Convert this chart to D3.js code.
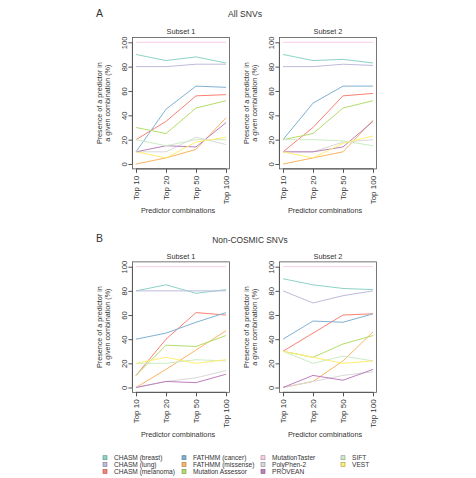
<!DOCTYPE html>
<html>
<head>
<meta charset="utf-8">
<script src="https://cdn.jsdelivr.net/npm/d3@7"></script>
<style>
  body { margin: 0; background: #fff; }
  svg { display: block; font-family: "Liberation Sans", Arial, sans-serif; fill: #333; }
</style>
</head>
<body>
<div id="chart"></div>
<script>
// predictors in legend order, with their line colours
const predictors = ['CHASM (breast)', 'CHASM (lung)', 'CHASM (melanoma)', 'FATHMM (cancer)',
    'FATHMM (missense)', 'Mutation Assessor', 'MutationTaster', 'PolyPhen-2', 'PROVEAN', 'SIFT', 'VEST'];
const colors = ['#8DD3C7', '#BEBADA', '#FB8072', '#80B1D3', '#FDB462', '#B3DE69',
    '#FCCDE5', '#D9D9D9', '#BC80BD', '#CCEBC5', '#FFED6F'];
const combos = ['Top 10', 'Top 20', 'Top 50', 'Top 100'];
const yTicks = [0, 20, 40, 60, 80, 100];

// % presence per predictor (same order as predictors), for Top 10/20/50/100
const allSubset1 = [
    [90, 85, 88, 83], [80, 80, 82, 82], [20, 35, 56, 57], [10, 45, 64, 63],
    [0, 5, 12, 38], [30, 25, 46, 52], [100, 100, 100, 100], [10, 10, 22, 16],
    [10, 15, 14, 34], [20, 15, 20, 20], [10, 5, 18, 22]
];
const allSubset2 = [
    [90, 85, 86, 83], [80, 80, 82, 81], [10, 30, 56, 58], [20, 50, 64, 64],
    [0, 5, 10, 36], [20, 25, 46, 52], [100, 100, 100, 100], [10, 10, 18, 20],
    [10, 10, 14, 35], [20, 20, 19, 15], [10, 5, 17, 23]
];
const nonCosmicSubset1 = [
    [80, 85, 78, 81], [80, 80, 80, 80], [10, 40, 62, 60], [40, 45, 54, 62],
    [0, 15, 31, 47], [10, 35, 34, 43], [100, 100, 100, 100], [0, 5, 8, 14],
    [0, 5, 4, 11], [20, 20, 23, 22], [20, 25, 20, 23]
];
const nonCosmicSubset2 = [
    [90, 85, 82, 81], [80, 70, 76, 80], [30, 45, 60, 61], [40, 55, 54, 61],
    [0, 5, 22, 46], [30, 25, 36, 43], [100, 100, 100, 100], [0, 5, 10, 13],
    [0, 10, 6, 15], [30, 20, 26, 22], [30, 25, 20, 22]
];

const totalWidth = 476;
const totalHeight = 478;

const svg = d3.select('#chart')
    .append('svg')
    .attr('width', totalWidth)
    .attr('height', totalHeight);

// panel positions (x range = Top 10 .. Top 100 tick spots, y = 0..100)
const panels = [
    {data: allSubset1, title: 'Subset 1', x0: 136, x1: 226, yTop: 42.3, yBottom: 164},
    {data: allSubset2, title: 'Subset 2', x0: 283, x1: 373, yTop: 42.3, yBottom: 164},
    {data: nonCosmicSubset1, title: 'Subset 1', x0: 136, x1: 226, yTop: 266.7, yBottom: 387.5},
    {data: nonCosmicSubset2, title: 'Subset 2', x0: 283, x1: 373, yTop: 266.7, yBottom: 387.5}
];

// section headings
svg.append('text').attr('x', 96).attr('y', 17).style('font-size', '10.5px').text('A');
svg.append('text').attr('x', 245).attr('y', 17).style('font-size', '8.6px')
    .style('text-anchor', 'middle').text('All SNVs');
svg.append('text').attr('x', 96).attr('y', 242).style('font-size', '10.5px').text('B');
svg.append('text').attr('x', 250).attr('y', 243).style('font-size', '8.4px')
    .style('text-anchor', 'middle').text('Non-COSMIC SNVs');

panels.forEach(p => {
    // R style: pad domain by 4% on each side
    const xScale = d3.scaleLinear().domain([1, 4]).range([p.x0, p.x1]);
    const yScale = d3.scaleLinear().domain([0, 100]).range([p.yBottom, p.yTop]);

    const left = xScale(0.88), right = xScale(4.12);
    const top = yScale(104), bottom = yScale(-4);

    const g = svg.append('g');

    // lines
    const line = d3.line()
        .x((d, i) => xScale(i + 1))
        .y(d => yScale(d));

    p.data.forEach((values, k) => {
        g.append('path')
            .datum(values)
            .attr('d', line)
            .attr('fill', 'none')
            .attr('stroke', colors[k])
            .attr('stroke-width', 1);
    });

    // box
    g.append('rect')
        .attr('x', left).attr('y', top)
        .attr('width', right - left).attr('height', bottom - top)
        .attr('fill', 'none').attr('stroke', '#555').attr('stroke-width', 0.8);

    // x axis
    const xAxis = g.append('g')
        .attr('transform', `translate(0, ${bottom})`)
        .call(d3.axisBottom(xScale).tickValues([1, 2, 3, 4])
            .tickFormat((d, i) => combos[i]).tickSize(4).tickSizeOuter(0));
    xAxis.select('.domain').attr('d', `M${xScale(1)},0H${xScale(4)}`).attr('stroke', '#555');
    xAxis.selectAll('.tick line').attr('stroke', '#555');
    xAxis.selectAll('.tick text')
        .attr('x', 0).attr('y', 0).attr('dy', '0.35em')
        .attr('transform', 'translate(0, 7) rotate(-90)')
        .style('text-anchor', 'end')
        .style('font-size', '8px')
        .attr('fill', '#333');

    // y axis
    const yAxis = g.append('g')
        .attr('transform', `translate(${left}, 0)`)
        .call(d3.axisLeft(yScale).tickValues(yTicks).tickSize(4).tickSizeOuter(0));
    yAxis.select('.domain').attr('d', `M0,${yScale(0)}V${yScale(100)}`).attr('stroke', '#555');
    yAxis.selectAll('.tick line').attr('stroke', '#555');
    yAxis.selectAll('.tick text')
        .attr('x', 0).attr('y', 0).attr('dy', 0)
        .attr('transform', 'translate(-5.5, 0) rotate(-90)')
        .style('text-anchor', 'middle')
        .style('font-size', '7.6px')
        .attr('fill', '#333');

    // panel title
    g.append('text')
        .attr('x', (left + right) / 2)
        .attr('y', top - 3)
        .style('text-anchor', 'middle')
        .style('font-size', '7.3px')
        .text(p.title);

    // x axis title
    g.append('text')
        .attr('x', (left + right) / 2 - 3)
        .attr('y', bottom + 44.5)
        .style('text-anchor', 'middle')
        .style('font-size', '7.3px')
        .text('Predictor combinations');

    // y axis title (two lines)
    const yMid = (yScale(0) + yScale(100)) / 2;
    ['Presence of a predictor in', 'a given combination (%)'].forEach((t, i) => {
        g.append('text')
            .attr('transform', `translate(${left - 30 + i * 7.5}, ${yMid}) rotate(-90)`)
            .style('text-anchor', 'middle')
            .style('font-size', '7.2px')
            .text(t);
    });
});

// legend, filled column by column (3 rows)
const legendX = [105, 184, 263, 343];
const legendY = [457.7, 464.5, 471.5];

predictors.forEach((name, i) => {
    const col = Math.floor(i / 3);
    const row = i % 3;
    const x = legendX[col];
    const y = legendY[row];
    svg.append('rect')
        .attr('x', x - 2).attr('y', y - 2)
        .attr('width', 4).attr('height', 4)
        .attr('fill', colors[i])
        .attr('stroke', d3.color(colors[i]).darker(1.2))
        .attr('stroke-width', 0.6);
    svg.append('text')
        .attr('x', x + 9)
        .attr('y', y)
        .attr('dy', '0.35em')
        .style('font-size', '6.6px')
        .attr('fill', '#333')
        .text(name);
});
</script>
</body>
</html>
